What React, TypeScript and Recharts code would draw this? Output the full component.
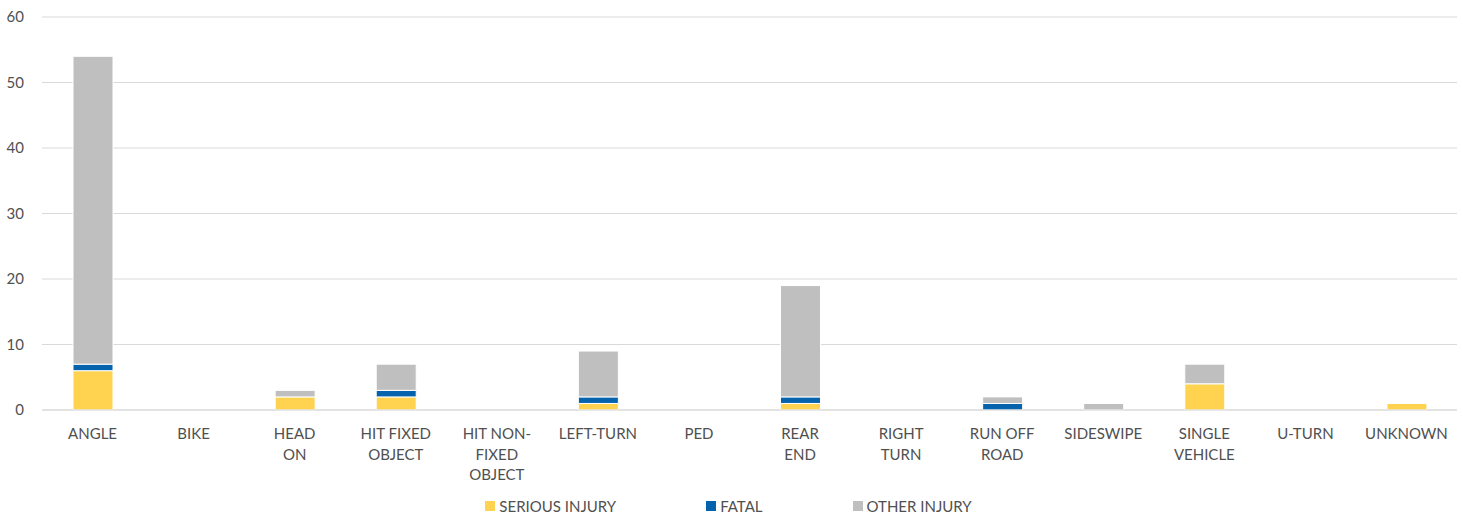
import { BarChart, Bar, XAxis, YAxis, CartesianGrid, Legend } from 'recharts';

const CATEGORIES = [
    'ANGLE', 'BIKE', 'HEAD ON', 'HIT FIXED OBJECT', 'HIT NON-FIXED OBJECT', 'LEFT-TURN', 'PED',
    'REAR END', 'RIGHT TURN', 'RUN OFF ROAD', 'SIDESWIPE', 'SINGLE VEHICLE', 'U-TURN', 'UNKNOWN',
];
const TICK_LINES = [
    ['ANGLE'], ['BIKE'], ['HEAD', 'ON'], ['HIT FIXED', 'OBJECT'], ['HIT NON-', 'FIXED', 'OBJECT'],
    ['LEFT-TURN'], ['PED'], ['REAR', 'END'], ['RIGHT', 'TURN'], ['RUN OFF', 'ROAD'], ['SIDESWIPE'],
    ['SINGLE', 'VEHICLE'], ['U-TURN'], ['UNKNOWN'],
];
const SERIOUS = [6, 0, 2, 2, 0, 1, 0, 1, 0, 0, 0, 4, 0, 1];
const FATAL = [1, 0, 0, 1, 0, 1, 0, 1, 0, 1, 0, 0, 0, 0];
const OTHER = [47, 0, 1, 4, 0, 7, 0, 17, 0, 1, 1, 3, 0, 0];
const Y_TICKS = [0, 10, 20, 30, 40, 50, 60];

const SERIES = [
    { key: 'serious', name: 'SERIOUS INJURY', color: '#FFD34F' },
    { key: 'fatal', name: 'FATAL', color: '#0563AD' },
    { key: 'other', name: 'OTHER INJURY', color: '#BFBFBF' },
];

const data = CATEGORIES.map((name, i) => ({
    name,
    serious: SERIOUS[i],
    fatal: FATAL[i],
    other: OTHER[i],
}));

const FONT = 'Lato, "Open Sans", sans-serif';
const TEXT = '#505050';

function CategoryTick(props: any) {
    const { x, y, payload } = props;
    const lines = TICK_LINES[CATEGORIES.indexOf(payload.value)] || [payload.value];
    return (
        <g transform={`translate(${x},${y})`}>
            {lines.map((line: string, i: number) => (
                <text
                    key={i}
                    x={0}
                    y={21 + i * 20.5}
                    textAnchor="middle"
                    fill={TEXT}
                    fontSize={15}
                    fontFamily={FONT}
                >
                    {line}
                </text>
            ))}
        </g>
    );
}

function LegendContent() {
    return (
        <div style={{ height: 20, paddingTop: 12, display: 'flex', justifyContent: 'center', alignItems: 'center', fontFamily: FONT, fontSize: 15, color: TEXT }}>
            {SERIES.map((s, i) => (
                <span key={s.key} style={{ display: 'inline-flex', alignItems: 'center', marginLeft: i === 0 ? 0 : 90 }}>
                    <span style={{ width: 10, height: 10, background: s.color, display: 'inline-block', marginRight: 4 }} />
                    {s.name}
                </span>
            ))}
        </div>
    );
}

export default function App() {
    return (
        <div style={{ position: 'absolute', left: 0, top: 0, width: 1463, height: 516, background: '#fff' }}>
            <BarChart
                width={1463}
                height={516}
                data={data}
                barSize={40}
                margin={{ top: 17, right: 6, left: 0, bottom: 0 }}
            >
                <CartesianGrid vertical={false} stroke="#D9D9D9" />
                <XAxis
                    dataKey="name"
                    interval={0}
                    height={74}
                    tickLine={false}
                    axisLine={{ stroke: '#D9D9D9' }}
                    tick={<CategoryTick />}
                />
                <YAxis
                    width={42}
                    domain={[0, 60]}
                    ticks={Y_TICKS}
                    axisLine={false}
                    tickLine={false}
                    tickSize={0}
                    tickMargin={18}
                    tick={{ fill: TEXT, fontSize: 15, fontFamily: FONT }}
                />
                <Legend verticalAlign="bottom" content={<LegendContent />} />
                {SERIES.map((s) => (
                    <Bar
                        key={s.key}
                        dataKey={s.key}
                        name={s.name}
                        stackId="a"
                        fill={s.color}
                        stroke="#FFFFFF"
                        strokeWidth={1}
                        isAnimationActive={false}
                    />
                ))}
            </BarChart>
        </div>
    );
}
